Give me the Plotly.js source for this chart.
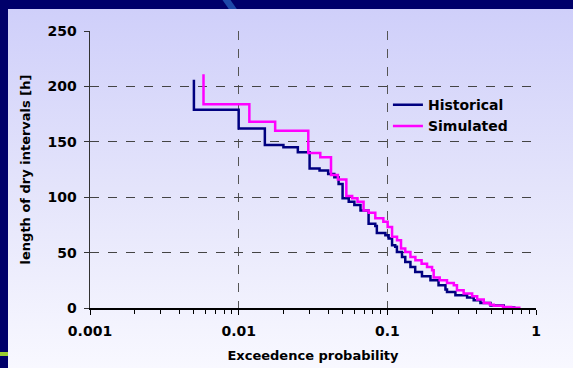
<!DOCTYPE html>
<html>
<head>
<meta charset="utf-8">
<script src="https://cdn.plot.ly/plotly-3.0.1.min.js"></script>
<style>
  html, body { margin: 0; padding: 0; width: 573px; height: 368px; overflow: hidden; background: #00006a; }
  #diag { position: absolute; left: 226px; top: -2px; width: 8px; height: 14px; background: #1d48a8;
          transform: skewX(35deg); }
  #panel { position: absolute; left: 8px; top: 9px; width: 565px; height: 359px;
           background: linear-gradient(to bottom, #cfcffa 0%, #e4e4fb 50%, #f8f8ff 100%); }
  #stripe { position: absolute; left: 0; top: 352px; width: 8px; height: 4px; background: #9acd32; }
  #chart { position: absolute; left: 0; top: 0; width: 573px; height: 368px; }
</style>
</head>
<body>
<div id="diag"></div>
<div id="panel"></div>
<div id="stripe"></div>
<div id="chart"></div>
<script>
// Exceedence probability (x) and length of dry intervals [h] (y), step vertices
const histP = [0.005, 0.01, 0.015, 0.02, 0.025, 0.03, 0.035, 0.04, 0.044, 0.047, 0.05,
  0.055, 0.06, 0.066, 0.0748, 0.083, 0.085, 0.097, 0.102, 0.1076, 0.113, 0.116, 0.1255,
  0.132, 0.143, 0.154, 0.171, 0.195, 0.221, 0.246, 0.252, 0.287, 0.344, 0.381, 0.423,
  0.494, 0.607, 0.728];
const histL = [206, 179, 162, 147, 145, 140.5, 126, 124, 121, 118, 112,
  99, 96, 93, 88, 76, 74, 67.8, 65.7, 62.7, 56.7, 55.2, 50.6,
  46.1, 41.6, 37.1, 32.5, 28.7, 25, 20.5, 16.6, 14.5, 11.5, 9.4, 7,
  4.5, 2.2, 0.4];

const simP = [0.0058, 0.0118, 0.0176, 0.0294, 0.0354, 0.0418, 0.0465, 0.053, 0.058,
  0.063, 0.0692, 0.075, 0.083, 0.094, 0.1005, 0.1076, 0.1162, 0.1236, 0.132, 0.143,
  0.1544, 0.17, 0.185, 0.2, 0.205, 0.225, 0.252, 0.28, 0.294, 0.326, 0.372, 0.402,
  0.445, 0.49, 0.52, 0.6, 0.68, 0.787];
const simL = [211, 184, 168, 160, 140, 136, 120, 116, 101,
  99, 96, 88, 86, 81, 77.8, 73.2, 64.2, 61.2, 53.7, 50.6,
  46, 43, 40, 37, 34, 27.5, 25, 22.6, 20.5, 16, 13, 10.6,
  7.6, 4.5, 3, 2, 1, 0.2];

const xTickVals = [0.001, 0.01, 0.1, 1];
const xTickText = ['0.001', '0.01', '0.1', '1'];
const xMinorVals = [0.002,0.003,0.004,0.005,0.006,0.007,0.008,0.009,
                    0.02,0.03,0.04,0.05,0.06,0.07,0.08,0.09,
                    0.2,0.3,0.4,0.5,0.6,0.7,0.8,0.9];
const yTickVals = [0, 50, 100, 150, 200, 250];

const font = { family: 'DejaVu Sans, Verdana, sans-serif', color: '#000' };

const traces = [
  { x: histP, y: histL, name: 'Historical', mode: 'lines',
    line: { color: '#000080', width: 2.5, shape: 'vh' } },
  { x: simP, y: simL, name: 'Simulated', mode: 'lines',
    line: { color: '#ff00ff', width: 2.5, shape: 'vh' } }
];

const layout = {
  width: 573, height: 368,
  margin: { l: 90, r: 37, t: 31, b: 60 },
  paper_bgcolor: 'rgba(0,0,0,0)',
  plot_bgcolor: 'rgba(0,0,0,0)',
  font: Object.assign({ size: 13 }, font),
  showlegend: true,
  legend: { x: 0.668, y: 0.79, xanchor: 'left', yanchor: 'top',
            bgcolor: 'rgba(0,0,0,0)', borderwidth: 0,
            font: Object.assign({ size: 14, weight: 'bold' }, font),
            itemwidth: 30, tracegroupgap: 0 },
  xaxis: {
    type: 'log', range: [-3, 0],
    tickvals: xTickVals, ticktext: xTickText,
    tickfont: Object.assign({ size: 14, weight: 'bold' }, font),
    ticks: 'outside', ticklen: 5, tickcolor: '#000', tickwidth: 1,
    ticklabelstandoff: 5,
    showline: true, linecolor: '#000', linewidth: 1.5,
    showgrid: true, gridcolor: '#555', griddash: 'dash', gridwidth: 1,
    minor: { ticks: 'outside', ticklen: 4, tickcolor: '#000', showgrid: false,
             tickvals: xMinorVals },
    zeroline: false,
    title: { text: 'Exceedence probability', standoff: 12,
             font: Object.assign({ size: 13, weight: 'bold' }, font) }
  },
  yaxis: {
    range: [0, 250], tickvals: yTickVals,
    tickfont: Object.assign({ size: 14, weight: 'bold' }, font),
    ticks: 'outside', ticklen: 5, tickcolor: '#333',
    ticklabelstandoff: 4,
    showline: true, linecolor: '#333', linewidth: 1.5,
    showgrid: true, gridcolor: '#444', griddash: 'dash', gridwidth: 1,
    zeroline: false,
    title: { text: 'length of dry intervals [h]', standoff: 14,
             font: Object.assign({ size: 13, weight: 'bold' }, font) }
  }
};

Plotly.newPlot('chart', traces, layout, { displayModeBar: false, staticPlot: true });
</script>
</body>
</html>
